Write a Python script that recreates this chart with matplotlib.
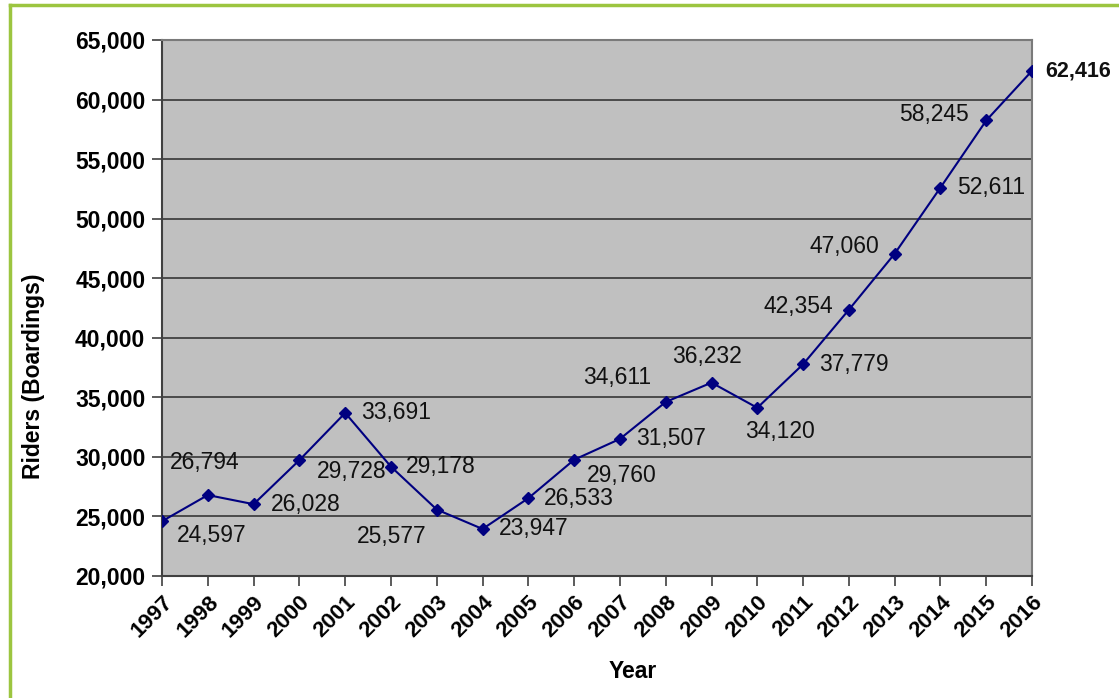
import matplotlib.pyplot as plt
from matplotlib.lines import Line2D
from matplotlib.ticker import FuncFormatter

plt.rcParams['font.family'] = ['Liberation Sans', 'DejaVu Sans']

years = list(range(1997, 2017))
riders = [24597, 26794, 26028, 29728, 33691, 29178, 25577, 23947, 26533, 29760,
          31507, 34611, 36232, 34120, 37779, 42354, 47060, 52611, 58245, 62416]

label_offsets = [(50, 14), (-3, -33), (52, 0), (52, 11), (51, 0), (50, 0), (-45, 27),
                 (51, 0), (50, 0), (48, 16), (51, 0), (-49, -24), (-5, -26), (23, 24),
                 (51, 0), (-51, -3), (-50, -7), (51, 0), (-52, -6), (46, 0)]

fig = plt.figure(figsize=(11.19, 6.98), dpi=100)
ax = fig.add_axes([0.1448, 0.1748, 0.9223 - 0.1448, 0.9427 - 0.1748])
ax.set_facecolor('#c0c0c0')

ax.plot(years, riders, color='#000080', lw=1.5, marker='D', ms=6, zorder=3)

for i, (yr, v) in enumerate(zip(years, riders)):
    dx, dy = label_offsets[i]
    last = i == len(years) - 1
    ax.annotate(f"{v:,}", (yr, v), xytext=(dx, -dy), textcoords='offset pixels',
                ha='center', va='center', fontsize=15.5 if last else 16.5,
                fontweight='bold' if last else 'normal', color='#111111',
                annotation_clip=False, zorder=4)

ax.set_xlim(1997, 2016)
ax.set_ylim(20000, 65000)
ax.set_xticks(years)
ax.set_xticklabels([str(y) for y in years], rotation=45, ha='right',
                   rotation_mode='anchor', fontsize=16, fontweight='bold')
ax.set_yticks(range(20000, 65001, 5000))
ax.yaxis.set_major_formatter(FuncFormatter(lambda v, p: f"{int(v):,}"))
for lab in ax.get_yticklabels():
    lab.set_fontweight('bold')
ax.tick_params(axis='y', labelsize=16.5, length=7, width=1.2, color='#404040', pad=5)
ax.tick_params(axis='x', length=7, width=1.2, color='#404040', pad=4)
ax.grid(axis='y', color='#2a2a2a', lw=1.1)
ax.set_axisbelow(True)
for s in ax.spines.values():
    s.set_color('#7a7a7a')
    s.set_linewidth(1.5)
ax.spines['left'].set_color('#404040')
ax.spines['bottom'].set_color('#404040')

ax.set_xlabel('Year', fontsize=16.5, fontweight='bold')
ax.xaxis.set_label_coords(0.541, -0.179)
ax.xaxis.label.set_va('center')
ax.set_ylabel('Riders (Boardings)', fontsize=16.5, fontweight='bold')
ax.yaxis.set_label_coords(-0.148, 0.373)
ax.yaxis.label.set_va('center')

# green frame (left and top edges visible)
green = '#9cc540'
fig.add_artist(Line2D([0.0085, 0.0085], [0, 0.993], transform=fig.transFigure, color=green, lw=2.5))
fig.add_artist(Line2D([0.0085, 1.0], [0.993, 0.993], transform=fig.transFigure, color=green, lw=2.5))

fig.savefig('out.png', dpi=100)
